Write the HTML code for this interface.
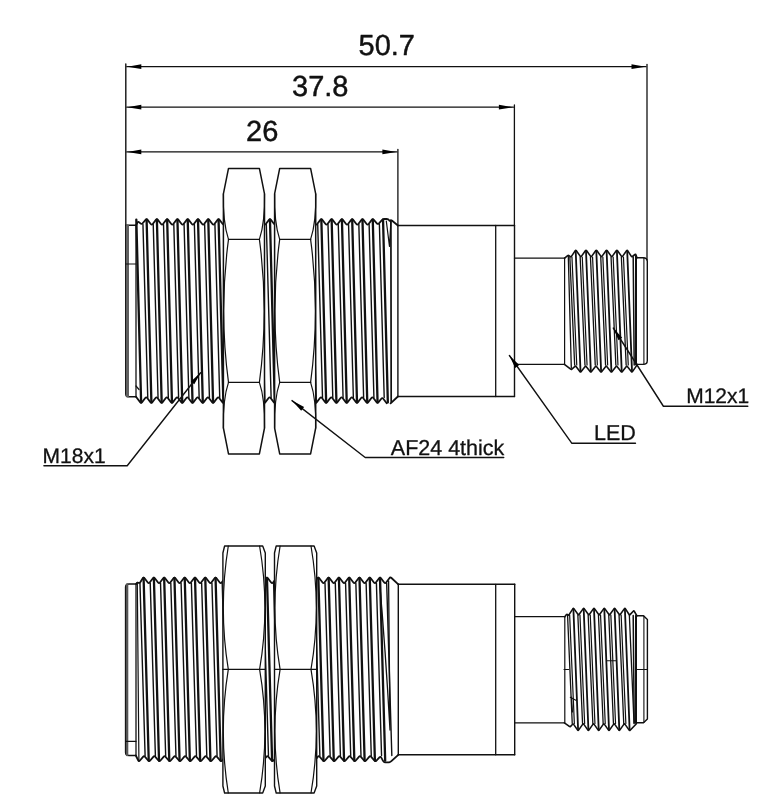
<!DOCTYPE html><html><head><meta charset="utf-8"><style>html,body{margin:0;padding:0;background:#fff;width:768px;height:800px;overflow:hidden}svg{display:block;will-change:transform;text-rendering:geometricPrecision;font-family:"Liberation Sans",sans-serif}</style></head><body><svg width="768" height="800" viewBox="0 0 768 800" stroke="#111" fill="none" stroke-linecap="round" stroke-linejoin="round">
<line x1="125.8" y1="64" x2="125.8" y2="225.5" stroke-width="1.4" />
<line x1="126.8" y1="66.7" x2="646" y2="66.7" stroke-width="1.3" />
<polygon points="127.3,66.7 141.3,69.1 141.3,64.3" fill="#000" stroke="none"/>
<polygon points="645.5,66.7 631.5,64.3 631.5,69.1" fill="#000" stroke="none"/>
<line x1="647" y1="64.4" x2="647" y2="260" stroke-width="1.3" />
<line x1="126.8" y1="107.2" x2="513.4" y2="107.2" stroke-width="1.3" />
<polygon points="127.3,107.2 141.3,109.6 141.3,104.8" fill="#000" stroke="none"/>
<polygon points="512.9,107.2 498.9,104.8 498.9,109.6" fill="#000" stroke="none"/>
<line x1="514.4" y1="104.9" x2="514.4" y2="225.5" stroke-width="1.3" />
<line x1="126.8" y1="151.9" x2="396.9" y2="151.9" stroke-width="1.3" />
<polygon points="127.3,151.9 141.3,154.3 141.3,149.5" fill="#000" stroke="none"/>
<polygon points="396.4,151.9 382.4,149.5 382.4,154.3" fill="#000" stroke="none"/>
<line x1="397.9" y1="149.4" x2="397.9" y2="225.5" stroke-width="1.3" />
<path d="M136,225.3 L137.36,222.72 Q138.1,221.3 139.28,222.38 L140.42,223.42 Q141.6,224.5 142.63,223.28 L145.57,219.82 Q146.6,218.6 147.58,219.86 L150.76,223.94 Q151.74,225.2 152.72,223.94 L155.9,219.86 Q156.88,218.6 157.86,219.86 L161.04,223.94 Q162.02,225.2 163,223.94 L166.18,219.86 Q167.16,218.6 168.14,219.86 L171.32,223.94 Q172.3,225.2 173.28,223.94 L176.46,219.86 Q177.44,218.6 178.42,219.86 L181.6,223.94 Q182.58,225.2 183.56,223.94 L186.74,219.86 Q187.72,218.6 188.7,219.86 L191.88,223.94 Q192.86,225.2 193.84,223.94 L197.02,219.86 Q198,218.6 198.98,219.86 L202.16,223.94 Q203.14,225.2 204.12,223.94 L207.3,219.86 Q208.28,218.6 209.26,219.86 L212.44,223.94 Q213.42,225.2 214.4,223.94 L217.58,219.86 Q218.56,218.6 219.54,219.86 L222.72,223.94 Q223.7,225.2 224.68,223.94 L227.86,219.86 Q228.84,218.6 229.82,219.86 L233,223.94 Q233.98,225.2 234.96,223.94 L238.14,219.86 Q239.12,218.6 240.1,219.86 L243.28,223.94 Q244.26,225.2 245.24,223.94 L248.42,219.86 Q249.4,218.6 250.38,219.86 L253.56,223.94 Q254.54,225.2 255.52,223.94 L258.7,219.86 Q259.68,218.6 260.66,219.86 L263.84,223.94 Q264.82,225.2 265.8,223.94 L268.98,219.86 Q269.96,218.6 270.94,219.86 L274.12,223.94 Q275.1,225.2 276.08,223.94 L279.26,219.86 Q280.24,218.6 281.22,219.86 L284.4,223.94 Q285.38,225.2 286.36,223.94 L289.54,219.86 Q290.52,218.6 291.5,219.86 L294.68,223.94 Q295.66,225.2 296.64,223.94 L299.82,219.86 Q300.8,218.6 301.78,219.86 L304.96,223.94 Q305.94,225.2 306.92,223.94 L310.1,219.86 Q311.08,218.6 312.06,219.86 L315.24,223.94 Q316.22,225.2 317.2,223.94 L320.38,219.86 Q321.36,218.6 322.34,219.86 L325.52,223.94 Q326.5,225.2 327.48,223.94 L330.66,219.86 Q331.64,218.6 332.62,219.86 L335.8,223.94 Q336.78,225.2 337.76,223.94 L340.94,219.86 Q341.92,218.6 342.9,219.86 L346.08,223.94 Q347.06,225.2 348.04,223.94 L351.22,219.86 Q352.2,218.6 353.18,219.86 L356.36,223.94 Q357.34,225.2 358.32,223.94 L361.5,219.86 Q362.48,218.6 363.46,219.86 L366.64,223.94 Q367.62,225.2 368.6,223.94 L371.78,219.86 Q372.76,218.6 373.81,219.81 L376.85,223.29 Q377.9,224.5 378.99,223.33 L381.91,220.17 Q383,219 384.6,219 L386.8,219 Q388.4,219 389,220.15 L389,220.15 Q389.6,221.3 390.25,220.55 L390.25,220.55 Q390.9,219.8 392.14,220.81 L397.9,225.5" stroke-width="1.8" fill="none"/>
<path d="M136,396.8 L140.12,402.13 Q141.1,403.4 142.08,402.14 L145.26,398.06 Q146.24,396.8 147.22,398.06 L150.4,402.14 Q151.38,403.4 152.36,402.14 L155.54,398.06 Q156.52,396.8 157.5,398.06 L160.68,402.14 Q161.66,403.4 162.64,402.14 L165.82,398.06 Q166.8,396.8 167.78,398.06 L170.96,402.14 Q171.94,403.4 172.92,402.14 L176.1,398.06 Q177.08,396.8 178.06,398.06 L181.24,402.14 Q182.22,403.4 183.2,402.14 L186.38,398.06 Q187.36,396.8 188.34,398.06 L191.52,402.14 Q192.5,403.4 193.48,402.14 L196.66,398.06 Q197.64,396.8 198.62,398.06 L201.8,402.14 Q202.78,403.4 203.76,402.14 L206.94,398.06 Q207.92,396.8 208.9,398.06 L212.08,402.14 Q213.06,403.4 214.04,402.14 L217.22,398.06 Q218.2,396.8 219.18,398.06 L222.36,402.14 Q223.34,403.4 224.32,402.14 L227.5,398.06 Q228.48,396.8 229.46,398.06 L232.64,402.14 Q233.62,403.4 234.6,402.14 L237.78,398.06 Q238.76,396.8 239.74,398.06 L242.92,402.14 Q243.9,403.4 244.88,402.14 L248.06,398.06 Q249.04,396.8 250.02,398.06 L253.2,402.14 Q254.18,403.4 255.16,402.14 L258.34,398.06 Q259.32,396.8 260.3,398.06 L263.48,402.14 Q264.46,403.4 265.44,402.14 L268.62,398.06 Q269.6,396.8 270.58,398.06 L273.76,402.14 Q274.74,403.4 275.72,402.14 L278.9,398.06 Q279.88,396.8 280.86,398.06 L284.04,402.14 Q285.02,403.4 286,402.14 L289.18,398.06 Q290.16,396.8 291.14,398.06 L294.32,402.14 Q295.3,403.4 296.28,402.14 L299.46,398.06 Q300.44,396.8 301.42,398.06 L304.6,402.14 Q305.58,403.4 306.56,402.14 L309.74,398.06 Q310.72,396.8 311.7,398.06 L314.88,402.14 Q315.86,403.4 316.84,402.14 L320.02,398.06 Q321,396.8 321.98,398.06 L325.16,402.14 Q326.14,403.4 327.12,402.14 L330.3,398.06 Q331.28,396.8 332.26,398.06 L335.44,402.14 Q336.42,403.4 337.4,402.14 L340.58,398.06 Q341.56,396.8 342.54,398.06 L345.72,402.14 Q346.7,403.4 347.68,402.14 L350.86,398.06 Q351.84,396.8 352.82,398.06 L356,402.14 Q356.98,403.4 357.96,402.14 L361.14,398.06 Q362.12,396.8 363.1,398.06 L366.28,402.14 Q367.26,403.4 368.24,402.14 L371.42,398.06 Q372.4,396.8 373.38,398.06 L376.56,402.14 Q377.54,403.4 378.54,402.15 L381.3,398.75 Q382.3,397.5 383.28,398.77 L386.7,403.2" stroke-width="1.8" fill="none"/>
<polyline points="390.6,403.4 397.9,396.5" stroke-width="1.8" fill="none"/>
<line x1="136.32" y1="219.6" x2="141.12" y2="402.4" stroke-width="2.3" />
<line x1="146.6" y1="219.6" x2="151.4" y2="402.4" stroke-width="2.3" />
<line x1="156.88" y1="219.6" x2="161.68" y2="402.4" stroke-width="2.3" />
<line x1="167.16" y1="219.6" x2="171.96" y2="402.4" stroke-width="2.3" />
<line x1="177.44" y1="219.6" x2="182.24" y2="402.4" stroke-width="2.3" />
<line x1="187.72" y1="219.6" x2="192.52" y2="402.4" stroke-width="2.3" />
<line x1="198" y1="219.6" x2="202.8" y2="402.4" stroke-width="2.3" />
<line x1="208.28" y1="219.6" x2="213.08" y2="402.4" stroke-width="2.3" />
<line x1="218.56" y1="219.6" x2="223.36" y2="402.4" stroke-width="2.3" />
<line x1="228.84" y1="219.6" x2="233.64" y2="402.4" stroke-width="2.3" />
<line x1="239.12" y1="219.6" x2="243.92" y2="402.4" stroke-width="2.3" />
<line x1="249.4" y1="219.6" x2="254.2" y2="402.4" stroke-width="2.3" />
<line x1="259.68" y1="219.6" x2="264.48" y2="402.4" stroke-width="2.3" />
<line x1="269.96" y1="219.6" x2="274.76" y2="402.4" stroke-width="2.3" />
<line x1="280.24" y1="219.6" x2="285.04" y2="402.4" stroke-width="2.3" />
<line x1="290.52" y1="219.6" x2="295.32" y2="402.4" stroke-width="2.3" />
<line x1="300.8" y1="219.6" x2="305.6" y2="402.4" stroke-width="2.3" />
<line x1="311.08" y1="219.6" x2="315.88" y2="402.4" stroke-width="2.3" />
<line x1="321.36" y1="219.6" x2="326.16" y2="402.4" stroke-width="2.3" />
<line x1="331.64" y1="219.6" x2="336.44" y2="402.4" stroke-width="2.3" />
<line x1="341.92" y1="219.6" x2="346.72" y2="402.4" stroke-width="2.3" />
<line x1="352.2" y1="219.6" x2="357" y2="402.4" stroke-width="2.3" />
<line x1="362.48" y1="219.6" x2="367.28" y2="402.4" stroke-width="2.3" />
<line x1="372.76" y1="219.6" x2="377.56" y2="402.4" stroke-width="2.3" />
<line x1="383.04" y1="219.6" x2="387.84" y2="402.4" stroke-width="2.3" />
<line x1="142.96" y1="224.5" x2="147.76" y2="397.5" stroke-width="1.4" />
<line x1="153.24" y1="224.5" x2="158.04" y2="397.5" stroke-width="1.4" />
<line x1="163.52" y1="224.5" x2="168.32" y2="397.5" stroke-width="1.4" />
<line x1="173.8" y1="224.5" x2="178.6" y2="397.5" stroke-width="1.4" />
<line x1="184.08" y1="224.5" x2="188.88" y2="397.5" stroke-width="1.4" />
<line x1="194.36" y1="224.5" x2="199.16" y2="397.5" stroke-width="1.4" />
<line x1="204.64" y1="224.5" x2="209.44" y2="397.5" stroke-width="1.4" />
<line x1="214.92" y1="224.5" x2="219.72" y2="397.5" stroke-width="1.4" />
<line x1="225.2" y1="224.5" x2="230" y2="397.5" stroke-width="1.4" />
<line x1="235.48" y1="224.5" x2="240.28" y2="397.5" stroke-width="1.4" />
<line x1="245.76" y1="224.5" x2="250.56" y2="397.5" stroke-width="1.4" />
<line x1="256.04" y1="224.5" x2="260.84" y2="397.5" stroke-width="1.4" />
<line x1="266.32" y1="224.5" x2="271.12" y2="397.5" stroke-width="1.4" />
<line x1="276.6" y1="224.5" x2="281.4" y2="397.5" stroke-width="1.4" />
<line x1="286.88" y1="224.5" x2="291.68" y2="397.5" stroke-width="1.4" />
<line x1="297.16" y1="224.5" x2="301.96" y2="397.5" stroke-width="1.4" />
<line x1="307.44" y1="224.5" x2="312.24" y2="397.5" stroke-width="1.4" />
<line x1="317.72" y1="224.5" x2="322.52" y2="397.5" stroke-width="1.4" />
<line x1="328" y1="224.5" x2="332.8" y2="397.5" stroke-width="1.4" />
<line x1="338.28" y1="224.5" x2="343.08" y2="397.5" stroke-width="1.4" />
<line x1="348.56" y1="224.5" x2="353.36" y2="397.5" stroke-width="1.4" />
<line x1="358.84" y1="224.5" x2="363.64" y2="397.5" stroke-width="1.4" />
<line x1="369.12" y1="224.5" x2="373.92" y2="397.5" stroke-width="1.4" />
<line x1="379.4" y1="224.5" x2="384.2" y2="397.5" stroke-width="1.4" />
<polyline points="386.3,221 389.5,246.3 390.9,221" stroke-width="1.2" fill="none"/>
<line x1="390.9" y1="221" x2="391.2" y2="402" stroke-width="1.7" />
<path d="M136,225.3 L125.8,225.3 L125.8,394 Q125.8,396.8 128.6,396.8 L136,396.8" stroke-width="1.5" fill="none"/>
<line x1="127.5" y1="225.8" x2="127.5" y2="396" stroke-width="3.0" stroke="#606060"/>
<line x1="125.8" y1="264" x2="136" y2="264" stroke-width="1.2" />
<line x1="136" y1="225.3" x2="136" y2="396.8" stroke-width="1.3" />
<polyline points="136,386 139,389.5" stroke-width="1.2" fill="none"/>
<path d="M228.5,168.4 L259.4,168.4 L264.5,193.8 L264.5,428 L259.4,453.9 L228.5,453.9 L223.4,428 L223.4,193.8 Z" stroke-width="1.5" fill="#fff"/>
<line x1="228.5" y1="239.4" x2="259.4" y2="239.4" stroke-width="1.3" />
<line x1="228.5" y1="382.4" x2="259.4" y2="382.4" stroke-width="1.3" />
<path d="M223.4,193.8 Q222.8,222.6 228.5,239.4" stroke-width="1.2" fill="none"/>
<path d="M264.5,193.8 Q265.1,222.6 259.4,239.4" stroke-width="1.2" fill="none"/>
<path d="M223.4,428 Q222.8,399.2 228.5,382.4" stroke-width="1.2" fill="none"/>
<path d="M264.5,428 Q265.1,399.2 259.4,382.4" stroke-width="1.2" fill="none"/>
<path d="M228.5,239.4 Q218.9,311 228.5,382.4" stroke-width="1.2" fill="none"/>
<path d="M259.4,239.4 Q269,311 259.4,382.4" stroke-width="1.2" fill="none"/>
<path d="M279.7,168.4 L310.6,168.4 L315.7,193.8 L315.7,428 L310.6,453.9 L279.7,453.9 L274.6,428 L274.6,193.8 Z" stroke-width="1.5" fill="#fff"/>
<line x1="279.7" y1="239.4" x2="310.6" y2="239.4" stroke-width="1.3" />
<line x1="279.7" y1="382.4" x2="310.6" y2="382.4" stroke-width="1.3" />
<path d="M274.6,193.8 Q274,222.6 279.7,239.4" stroke-width="1.2" fill="none"/>
<path d="M315.7,193.8 Q316.3,222.6 310.6,239.4" stroke-width="1.2" fill="none"/>
<path d="M274.6,428 Q274,399.2 279.7,382.4" stroke-width="1.2" fill="none"/>
<path d="M315.7,428 Q316.3,399.2 310.6,382.4" stroke-width="1.2" fill="none"/>
<path d="M279.7,239.4 Q270.1,311 279.7,382.4" stroke-width="1.2" fill="none"/>
<path d="M310.6,239.4 Q320.2,311 310.6,382.4" stroke-width="1.2" fill="none"/>
<line x1="397.9" y1="225.5" x2="514.5" y2="225.5" stroke-width="1.4" />
<line x1="397.9" y1="396.5" x2="514.5" y2="396.5" stroke-width="1.4" />
<line x1="397.9" y1="225.5" x2="397.9" y2="396.5" stroke-width="1.4" />
<line x1="514.5" y1="225.5" x2="514.5" y2="396.5" stroke-width="1.4" />
<line x1="495.7" y1="225.5" x2="495.7" y2="396.5" stroke-width="1.3" />
<line x1="514.5" y1="258.2" x2="564.6" y2="258.2" stroke-width="1.3" />
<line x1="514.5" y1="364.3" x2="564.4" y2="364.3" stroke-width="1.3" />
<line x1="564.6" y1="258.2" x2="564.6" y2="364.3" stroke-width="1.2" />
<path d="M564.6,258.2 L567.69,255.61 Q568.3,255.1 568.95,255.56 L570.35,256.54 Q571,257 571.44,256.33 L575.26,250.57 Q575.7,249.9 576.17,250.55 L580.38,256.35 Q580.85,257 581.32,256.35 L585.53,250.55 Q586,249.9 586.47,250.55 L590.68,256.35 Q591.15,257 591.62,256.35 L595.83,250.55 Q596.3,249.9 596.77,250.55 L600.98,256.35 Q601.45,257 601.92,256.35 L606.13,250.55 Q606.6,249.9 607.07,250.55 L611.28,256.35 Q611.75,257 612.22,256.35 L616.43,250.55 Q616.9,249.9 617.37,250.55 L621.58,256.35 Q622.05,257 622.52,256.35 L626.73,250.55 Q627.2,249.9 627.63,250.57 L631.37,256.33 Q631.8,257 632.43,256.5 L634.97,254.5 Q635.6,254 635.88,254.75 L637,257.7" stroke-width="1.6" fill="none"/>
<path d="M564.4,364.3 L570.67,369.21 Q571.3,369.7 571.89,369.16 L575.01,366.34 Q575.6,365.8 576.08,366.44 L580.02,371.66 Q580.5,372.3 581,371.67 L585.15,366.43 Q585.65,365.8 586.15,366.43 L590.3,371.67 Q590.8,372.3 591.3,371.67 L595.45,366.43 Q595.95,365.8 596.45,366.43 L600.6,371.67 Q601.1,372.3 601.6,371.67 L605.75,366.43 Q606.25,365.8 606.75,366.43 L610.9,371.67 Q611.4,372.3 611.9,371.67 L616.05,366.43 Q616.55,365.8 617.05,366.43 L621.2,371.67 Q621.7,372.3 622.2,371.67 L626.35,366.43 Q626.85,365.8 627.35,366.43 L631.5,371.67 Q632,372.3 632.46,371.64 L637.5,364.4" stroke-width="1.6" fill="none"/>
<line x1="575.7" y1="250.9" x2="580.5" y2="371.1" stroke-width="1.8" />
<line x1="586" y1="250.9" x2="590.8" y2="371.1" stroke-width="1.8" />
<line x1="596.3" y1="250.9" x2="601.1" y2="371.1" stroke-width="1.8" />
<line x1="606.6" y1="250.9" x2="611.4" y2="371.1" stroke-width="1.8" />
<line x1="616.9" y1="250.9" x2="621.7" y2="371.1" stroke-width="1.8" />
<line x1="627.2" y1="250.9" x2="632" y2="371.1" stroke-width="1.8" />
<line x1="569.85" y1="257" x2="574.65" y2="365" stroke-width="1.3" />
<line x1="580.15" y1="257" x2="584.95" y2="365" stroke-width="1.3" />
<line x1="590.45" y1="257" x2="595.25" y2="365" stroke-width="1.3" />
<line x1="600.75" y1="257" x2="605.55" y2="365" stroke-width="1.3" />
<line x1="611.05" y1="257" x2="615.85" y2="365" stroke-width="1.3" />
<line x1="621.35" y1="257" x2="626.15" y2="365" stroke-width="1.3" />
<line x1="571.95" y1="257" x2="576.75" y2="365" stroke-width="1.2" />
<line x1="582.25" y1="257" x2="587.05" y2="365" stroke-width="1.2" />
<line x1="592.55" y1="257" x2="597.35" y2="365" stroke-width="1.2" />
<line x1="602.85" y1="257" x2="607.65" y2="365" stroke-width="1.2" />
<line x1="613.15" y1="257" x2="617.95" y2="365" stroke-width="1.2" />
<line x1="623.45" y1="257" x2="628.25" y2="365" stroke-width="1.2" />
<line x1="568.3" y1="256" x2="571.3" y2="368" stroke-width="1.3" />
<line x1="636" y1="256" x2="636" y2="364.4" stroke-width="2.0" />
<line x1="633.2" y1="257" x2="634.2" y2="365" stroke-width="1.5" />
<path d="M637,257.7 L643.1,257.7 Q647.3,257.7 647.3,261.5 L647.3,360.5 Q647.3,364.4 643.1,364.4 L637.5,364.4" stroke-width="1.4" fill="none"/>
<line x1="643.9" y1="258" x2="643.9" y2="364.2" stroke-width="1.1" />
<path d="M136.25,583.9 L136.78,583.1 Q137.3,582.3 138.45,582.8 L138.45,582.8 Q139.6,583.3 140.45,581.94 L142.75,578.26 Q143.6,576.9 144.56,578.18 L147.78,582.52 Q148.74,583.8 149.7,582.52 L152.92,578.18 Q153.88,576.9 154.84,578.18 L158.06,582.52 Q159.02,583.8 159.98,582.52 L163.2,578.18 Q164.16,576.9 165.12,578.18 L168.34,582.52 Q169.3,583.8 170.26,582.52 L173.48,578.18 Q174.44,576.9 175.4,578.18 L178.62,582.52 Q179.58,583.8 180.54,582.52 L183.76,578.18 Q184.72,576.9 185.68,578.18 L188.9,582.52 Q189.86,583.8 190.82,582.52 L194.04,578.18 Q195,576.9 195.96,578.18 L199.18,582.52 Q200.14,583.8 201.1,582.52 L204.32,578.18 Q205.28,576.9 206.24,578.18 L209.46,582.52 Q210.42,583.8 211.38,582.52 L214.6,578.18 Q215.56,576.9 216.52,578.18 L219.74,582.52 Q220.7,583.8 221.66,582.52 L224.88,578.18 Q225.84,576.9 226.8,578.18 L230.02,582.52 Q230.98,583.8 231.94,582.52 L235.16,578.18 Q236.12,576.9 237.08,578.18 L240.3,582.52 Q241.26,583.8 242.22,582.52 L245.44,578.18 Q246.4,576.9 247.36,578.18 L250.58,582.52 Q251.54,583.8 252.5,582.52 L255.72,578.18 Q256.68,576.9 257.64,578.18 L260.86,582.52 Q261.82,583.8 262.78,582.52 L266,578.18 Q266.96,576.9 267.92,578.18 L271.14,582.52 Q272.1,583.8 273.06,582.52 L276.28,578.18 Q277.24,576.9 278.2,578.18 L281.42,582.52 Q282.38,583.8 283.34,582.52 L286.56,578.18 Q287.52,576.9 288.48,578.18 L291.7,582.52 Q292.66,583.8 293.62,582.52 L296.84,578.18 Q297.8,576.9 298.76,578.18 L301.98,582.52 Q302.94,583.8 303.9,582.52 L307.12,578.18 Q308.08,576.9 309.04,578.18 L312.26,582.52 Q313.22,583.8 314.18,582.52 L317.4,578.18 Q318.36,576.9 319.32,578.18 L322.54,582.52 Q323.5,583.8 324.46,582.52 L327.68,578.18 Q328.64,576.9 329.6,578.18 L332.82,582.52 Q333.78,583.8 334.74,582.52 L337.96,578.18 Q338.92,576.9 339.88,578.18 L343.1,582.52 Q344.06,583.8 345.02,582.52 L348.24,578.18 Q349.2,576.9 350.16,578.18 L353.38,582.52 Q354.34,583.8 355.3,582.52 L358.52,578.18 Q359.48,576.9 360.44,578.18 L363.66,582.52 Q364.62,583.8 365.58,582.52 L368.8,578.18 Q369.76,576.9 370.72,578.18 L373.94,582.52 Q374.9,583.8 375.86,582.52 L379.08,578.18 Q380.04,576.9 381,578.18 L384.22,582.52 Q385.18,583.8 386.14,582.52 L389.36,578.18 Q390.32,576.9 391.49,577.99 L398.3,584.3" stroke-width="1.8" fill="none"/>
<path d="M135.8,755.5 L138.18,760.27 Q138.9,761.7 139.93,760.48 L143.01,756.82 Q144.04,755.6 145.07,756.82 L148.15,760.48 Q149.18,761.7 150.21,760.48 L153.29,756.82 Q154.32,755.6 155.35,756.82 L158.43,760.48 Q159.46,761.7 160.49,760.48 L163.57,756.82 Q164.6,755.6 165.63,756.82 L168.71,760.48 Q169.74,761.7 170.77,760.48 L173.85,756.82 Q174.88,755.6 175.91,756.82 L178.99,760.48 Q180.02,761.7 181.05,760.48 L184.13,756.82 Q185.16,755.6 186.19,756.82 L189.27,760.48 Q190.3,761.7 191.33,760.48 L194.41,756.82 Q195.44,755.6 196.47,756.82 L199.55,760.48 Q200.58,761.7 201.61,760.48 L204.69,756.82 Q205.72,755.6 206.75,756.82 L209.83,760.48 Q210.86,761.7 211.89,760.48 L214.97,756.82 Q216,755.6 217.03,756.82 L220.11,760.48 Q221.14,761.7 222.17,760.48 L225.25,756.82 Q226.28,755.6 227.31,756.82 L230.39,760.48 Q231.42,761.7 232.45,760.48 L235.53,756.82 Q236.56,755.6 237.59,756.82 L240.67,760.48 Q241.7,761.7 242.73,760.48 L245.81,756.82 Q246.84,755.6 247.87,756.82 L250.95,760.48 Q251.98,761.7 253.01,760.48 L256.09,756.82 Q257.12,755.6 258.15,756.82 L261.23,760.48 Q262.26,761.7 263.29,760.48 L266.37,756.82 Q267.4,755.6 268.43,756.82 L271.51,760.48 Q272.54,761.7 273.57,760.48 L276.65,756.82 Q277.68,755.6 278.71,756.82 L281.79,760.48 Q282.82,761.7 283.85,760.48 L286.93,756.82 Q287.96,755.6 288.99,756.82 L292.07,760.48 Q293.1,761.7 294.13,760.48 L297.21,756.82 Q298.24,755.6 299.27,756.82 L302.35,760.48 Q303.38,761.7 304.41,760.48 L307.49,756.82 Q308.52,755.6 309.55,756.82 L312.63,760.48 Q313.66,761.7 314.69,760.48 L317.77,756.82 Q318.8,755.6 319.83,756.82 L322.91,760.48 Q323.94,761.7 324.97,760.48 L328.05,756.82 Q329.08,755.6 330.11,756.82 L333.19,760.48 Q334.22,761.7 335.25,760.48 L338.33,756.82 Q339.36,755.6 340.39,756.82 L343.47,760.48 Q344.5,761.7 345.53,760.48 L348.61,756.82 Q349.64,755.6 350.67,756.82 L353.75,760.48 Q354.78,761.7 355.81,760.48 L358.89,756.82 Q359.92,755.6 360.95,756.82 L364.03,760.48 Q365.06,761.7 366.09,760.48 L369.17,756.82 Q370.2,755.6 371.23,756.82 L374.31,760.48 Q375.34,761.7 376.43,760.53 L379.41,757.37 Q380.5,756.2 381.26,757.61 L383.04,760.89 Q383.8,762.3 385.4,762.3 L388.6,762.3 Q390.2,762.3 391.37,761.21 L398.3,754.8" stroke-width="1.8" fill="none"/>
<path d="M379.5,581 Q385.5,650 390,730 L388.6,581" stroke-width="1.3" fill="none"/>
<line x1="143.6" y1="577.9" x2="148.75" y2="760.7" stroke-width="2.3" />
<line x1="153.88" y1="577.9" x2="159.03" y2="760.7" stroke-width="2.3" />
<line x1="164.16" y1="577.9" x2="169.31" y2="760.7" stroke-width="2.3" />
<line x1="174.44" y1="577.9" x2="179.59" y2="760.7" stroke-width="2.3" />
<line x1="184.72" y1="577.9" x2="189.87" y2="760.7" stroke-width="2.3" />
<line x1="195" y1="577.9" x2="200.15" y2="760.7" stroke-width="2.3" />
<line x1="205.28" y1="577.9" x2="210.43" y2="760.7" stroke-width="2.3" />
<line x1="215.56" y1="577.9" x2="220.71" y2="760.7" stroke-width="2.3" />
<line x1="225.84" y1="577.9" x2="230.99" y2="760.7" stroke-width="2.3" />
<line x1="236.12" y1="577.9" x2="241.27" y2="760.7" stroke-width="2.3" />
<line x1="246.4" y1="577.9" x2="251.55" y2="760.7" stroke-width="2.3" />
<line x1="256.68" y1="577.9" x2="261.83" y2="760.7" stroke-width="2.3" />
<line x1="266.96" y1="577.9" x2="272.11" y2="760.7" stroke-width="2.3" />
<line x1="277.24" y1="577.9" x2="282.39" y2="760.7" stroke-width="2.3" />
<line x1="287.52" y1="577.9" x2="292.67" y2="760.7" stroke-width="2.3" />
<line x1="297.8" y1="577.9" x2="302.95" y2="760.7" stroke-width="2.3" />
<line x1="308.08" y1="577.9" x2="313.23" y2="760.7" stroke-width="2.3" />
<line x1="318.36" y1="577.9" x2="323.51" y2="760.7" stroke-width="2.3" />
<line x1="328.64" y1="577.9" x2="333.79" y2="760.7" stroke-width="2.3" />
<line x1="338.92" y1="577.9" x2="344.07" y2="760.7" stroke-width="2.3" />
<line x1="349.2" y1="577.9" x2="354.35" y2="760.7" stroke-width="2.3" />
<line x1="359.48" y1="577.9" x2="364.63" y2="760.7" stroke-width="2.3" />
<line x1="369.76" y1="577.9" x2="374.91" y2="760.7" stroke-width="2.3" />
<line x1="380.04" y1="577.9" x2="385.19" y2="760.7" stroke-width="2.3" />
<line x1="139.96" y1="583.1" x2="145.11" y2="755.5" stroke-width="1.4" />
<line x1="150.24" y1="583.1" x2="155.39" y2="755.5" stroke-width="1.4" />
<line x1="160.52" y1="583.1" x2="165.67" y2="755.5" stroke-width="1.4" />
<line x1="170.8" y1="583.1" x2="175.95" y2="755.5" stroke-width="1.4" />
<line x1="181.08" y1="583.1" x2="186.23" y2="755.5" stroke-width="1.4" />
<line x1="191.36" y1="583.1" x2="196.51" y2="755.5" stroke-width="1.4" />
<line x1="201.64" y1="583.1" x2="206.79" y2="755.5" stroke-width="1.4" />
<line x1="211.92" y1="583.1" x2="217.07" y2="755.5" stroke-width="1.4" />
<line x1="222.2" y1="583.1" x2="227.35" y2="755.5" stroke-width="1.4" />
<line x1="232.48" y1="583.1" x2="237.63" y2="755.5" stroke-width="1.4" />
<line x1="242.76" y1="583.1" x2="247.91" y2="755.5" stroke-width="1.4" />
<line x1="253.04" y1="583.1" x2="258.19" y2="755.5" stroke-width="1.4" />
<line x1="263.32" y1="583.1" x2="268.47" y2="755.5" stroke-width="1.4" />
<line x1="273.6" y1="583.1" x2="278.75" y2="755.5" stroke-width="1.4" />
<line x1="283.88" y1="583.1" x2="289.03" y2="755.5" stroke-width="1.4" />
<line x1="294.16" y1="583.1" x2="299.31" y2="755.5" stroke-width="1.4" />
<line x1="304.44" y1="583.1" x2="309.59" y2="755.5" stroke-width="1.4" />
<line x1="314.72" y1="583.1" x2="319.87" y2="755.5" stroke-width="1.4" />
<line x1="325" y1="583.1" x2="330.15" y2="755.5" stroke-width="1.4" />
<line x1="335.28" y1="583.1" x2="340.43" y2="755.5" stroke-width="1.4" />
<line x1="345.56" y1="583.1" x2="350.71" y2="755.5" stroke-width="1.4" />
<line x1="355.84" y1="583.1" x2="360.99" y2="755.5" stroke-width="1.4" />
<line x1="366.12" y1="583.1" x2="371.27" y2="755.5" stroke-width="1.4" />
<line x1="376.4" y1="583.1" x2="381.55" y2="755.5" stroke-width="1.4" />
<line x1="386.68" y1="583.1" x2="391.83" y2="755.5" stroke-width="1.4" />
<line x1="137.3" y1="582.3" x2="138.9" y2="761" stroke-width="1.2" />
<path d="M136.25,583.9 L129,583.9 Q125.6,583.9 125.6,587 L125.6,752.5 Q125.6,755.5 129,755.5 L135.8,755.5" stroke-width="1.5" fill="none"/>
<line x1="127.1" y1="584.5" x2="127.1" y2="755" stroke-width="2.4" stroke="#555"/>
<line x1="136" y1="583.9" x2="136" y2="755.5" stroke-width="1.3" />
<line x1="125.6" y1="741.4" x2="136" y2="741.4" stroke-width="1.2" />
<path d="M224.6,546 L262.7,546 L265.3,553 L265.3,786 L262.7,793 L224.6,793 L222.9,786 L222.9,553 Z" stroke-width="1.4" fill="#fff"/>
<line x1="222.9" y1="669.4" x2="265.3" y2="669.4" stroke-width="1.3" />
<path d="M228.3,546 Q218.3,607.7 228.3,669.4 Q218.3,731.2 228.3,793" stroke-width="1.2" fill="none"/>
<path d="M259.6,546 Q270.2,607.7 259.6,669.4 Q270.2,731.2 259.6,793" stroke-width="1.2" fill="none"/>
<path d="M276.2,546 L314.1,546 L316.7,553 L316.7,786 L314.1,793 L276.2,793 L274.5,786 L274.5,553 Z" stroke-width="1.4" fill="#fff"/>
<line x1="274.5" y1="669.4" x2="316.7" y2="669.4" stroke-width="1.3" />
<path d="M280.1,546 Q269.7,607.7 280.1,669.4 Q269.7,731.2 280.1,793" stroke-width="1.2" fill="none"/>
<path d="M311,546 Q321.6,607.7 311,669.4 Q321.6,731.2 311,793" stroke-width="1.2" fill="none"/>
<line x1="398.3" y1="584.3" x2="514.7" y2="584.3" stroke-width="1.4" />
<line x1="398.3" y1="754.8" x2="514.7" y2="754.8" stroke-width="1.4" />
<line x1="398.3" y1="584.3" x2="398.3" y2="754.8" stroke-width="1.4" />
<line x1="514.7" y1="584.3" x2="514.7" y2="754.8" stroke-width="1.4" />
<line x1="495.7" y1="584.3" x2="495.7" y2="754.8" stroke-width="1.3" />
<line x1="514.7" y1="616.7" x2="564.8" y2="616.7" stroke-width="1.3" />
<line x1="514.7" y1="722.8" x2="564.4" y2="722.8" stroke-width="1.3" />
<line x1="564.8" y1="616.7" x2="564.8" y2="722.8" stroke-width="1.2" />
<path d="M564.8,616.7 L566.49,614.62 Q567,614 567.55,614.58 L567.95,615.02 Q568.5,615.6 568.93,614.93 L572.97,608.67 Q573.4,608 573.87,608.65 L578.08,614.55 Q578.55,615.2 579.02,614.55 L583.23,608.65 Q583.7,608 584.17,608.65 L588.38,614.55 Q588.85,615.2 589.32,614.55 L593.53,608.65 Q594,608 594.47,608.65 L598.68,614.55 Q599.15,615.2 599.62,614.55 L603.83,608.65 Q604.3,608 604.77,608.65 L608.98,614.55 Q609.45,615.2 609.92,614.55 L614.13,608.65 Q614.6,608 615.07,608.65 L619.28,614.55 Q619.75,615.2 620.22,614.55 L624.43,608.65 Q624.9,608 625.33,608.67 L629.07,614.53 Q629.5,615.2 630.05,614.62 L633.25,611.18 Q633.8,610.6 634.22,611.28 L637,615.8" stroke-width="1.6" fill="none"/>
<path d="M564.4,722.8 L569.35,726.43 Q570,726.9 570.57,726.33 L572.63,724.27 Q573.2,723.7 573.65,724.36 L577.65,730.14 Q578.1,730.8 578.56,730.15 L582.79,724.15 Q583.25,723.5 583.71,724.15 L587.94,730.15 Q588.4,730.8 588.86,730.15 L593.09,724.15 Q593.55,723.5 594.01,724.15 L598.24,730.15 Q598.7,730.8 599.16,730.15 L603.39,724.15 Q603.85,723.5 604.31,724.15 L608.54,730.15 Q609,730.8 609.46,730.15 L613.69,724.15 Q614.15,723.5 614.61,724.15 L618.84,730.15 Q619.3,730.8 619.76,730.15 L623.99,724.15 Q624.45,723.5 624.91,724.15 L629.14,730.15 Q629.6,730.8 630.15,730.22 L636.4,723.7" stroke-width="1.6" fill="none"/>
<line x1="573.4" y1="609" x2="578.1" y2="729.6" stroke-width="1.8" />
<line x1="583.7" y1="609" x2="588.4" y2="729.6" stroke-width="1.8" />
<line x1="594" y1="609" x2="598.7" y2="729.6" stroke-width="1.8" />
<line x1="604.3" y1="609" x2="609" y2="729.6" stroke-width="1.8" />
<line x1="614.6" y1="609" x2="619.3" y2="729.6" stroke-width="1.8" />
<line x1="624.9" y1="609" x2="629.6" y2="729.6" stroke-width="1.8" />
<line x1="567.55" y1="615.1" x2="572.25" y2="723.5" stroke-width="1.3" />
<line x1="577.85" y1="615.1" x2="582.55" y2="723.5" stroke-width="1.3" />
<line x1="588.15" y1="615.1" x2="592.85" y2="723.5" stroke-width="1.3" />
<line x1="598.45" y1="615.1" x2="603.15" y2="723.5" stroke-width="1.3" />
<line x1="608.75" y1="615.1" x2="613.45" y2="723.5" stroke-width="1.3" />
<line x1="619.05" y1="615.1" x2="623.75" y2="723.5" stroke-width="1.3" />
<line x1="629.35" y1="615.1" x2="634.05" y2="723.5" stroke-width="1.3" />
<line x1="569.65" y1="615.1" x2="574.35" y2="723.5" stroke-width="1.2" />
<line x1="579.95" y1="615.1" x2="584.65" y2="723.5" stroke-width="1.2" />
<line x1="590.25" y1="615.1" x2="594.95" y2="723.5" stroke-width="1.2" />
<line x1="600.55" y1="615.1" x2="605.25" y2="723.5" stroke-width="1.2" />
<line x1="610.85" y1="615.1" x2="615.55" y2="723.5" stroke-width="1.2" />
<line x1="621.15" y1="615.1" x2="625.85" y2="723.5" stroke-width="1.2" />
<line x1="636" y1="615.5" x2="636" y2="723" stroke-width="2.0" />
<line x1="633.2" y1="615.5" x2="634.2" y2="723" stroke-width="1.5" />
<path d="M637,615.8 L643.5,615.8 L647.4,619.5 L647.4,719 L643.5,722.8 L636.4,722.8" stroke-width="1.4" fill="none"/>
<line x1="643.9" y1="616" x2="643.9" y2="722.5" stroke-width="1.1" />
<line x1="607" y1="660.75" x2="616.2" y2="660.75" stroke-width="1.1" />
<polyline points="570.3,697.3 575.8,700.2" stroke-width="1.1" fill="none"/>
<line x1="571.5" y1="697" x2="572.5" y2="712" stroke-width="1.1" />
<line x1="564" y1="669.5" x2="568.7" y2="669.5" stroke-width="1.1" />
<line x1="637" y1="669.5" x2="646.8" y2="669.5" stroke-width="1.1" />
<polyline points="43.9,465.8 127.2,465.8 200.6,372.7" stroke-width="1.4" fill="none"/>
<polygon points="200.6,372.7 190.82,381.55 194.28,384.27" fill="#000" stroke="none"/>
<polyline points="503.75,457.5 365.2,457.5 292,400.6" stroke-width="1.4" fill="none"/>
<polygon points="292,400.6 301.19,410.78 304.13,406.99" fill="#000" stroke="none"/>
<polyline points="635.5,443.2 571.7,443.2 509.4,355.5" stroke-width="1.4" fill="none"/>
<polygon points="509.4,355.5 515.18,367.95 519.26,365.06" fill="#000" stroke="none"/>
<polyline points="747.8,406.25 663.4,406.25 613.3,328" stroke-width="1.4" fill="none"/>
<polygon points="613.3,328 618.46,340.13 622.16,337.76" fill="#000" stroke="none"/>
<text x="358.5" y="55.4" font-size="29" fill="#111" stroke="#111" stroke-width="0.45">50.7</text>
<text x="292" y="96.1" font-size="29" fill="#111" stroke="#111" stroke-width="0.45">37.8</text>
<text x="246.1" y="140.7" font-size="29" fill="#111" stroke="#111" stroke-width="0.45">26</text>
<text x="42.6" y="463" font-size="21" fill="#111" stroke="#111" stroke-width="0.3">M18x1</text>
<text x="390.8" y="454.6" font-size="21.5" fill="#111" stroke="#111" stroke-width="0.3">AF24 4thick</text>
<text x="594" y="440" font-size="21.5" fill="#111" stroke="#111" stroke-width="0.3">LED</text>
<text x="686.2" y="403.1" font-size="21" fill="#111" stroke="#111" stroke-width="0.3">M12x1</text>
</svg></body></html>
